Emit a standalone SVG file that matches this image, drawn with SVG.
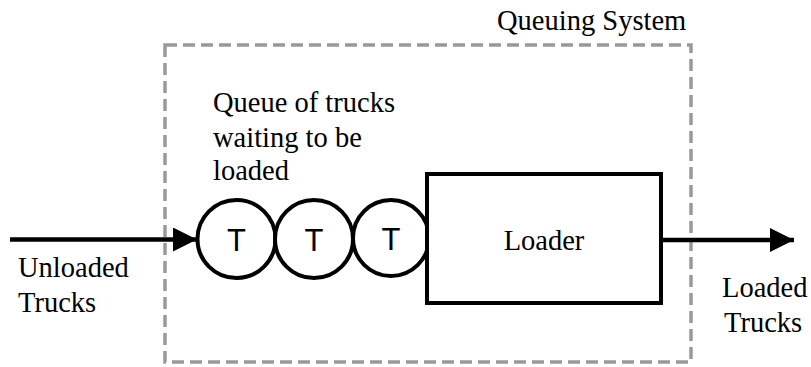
<svg xmlns="http://www.w3.org/2000/svg" width="811" height="367" viewBox="0 0 811 367">
<style>
.lbl{font-family:"Liberation Serif","Times New Roman",serif;font-size:28.5px;fill:#000}
.t{font-family:"Liberation Sans",Arial,sans-serif;font-size:31px;fill:#000;text-anchor:middle}
.node{fill:#fff;stroke:#000;stroke-width:4}
.edge{stroke:#000;stroke-width:4.5;fill:none}
</style>
<defs>
<marker id="arr" markerUnits="userSpaceOnUse" markerWidth="24" markerHeight="24" refX="24" refY="12" orient="auto">
<path d="M0,0 L24,12 L0,24 Z" fill="#000"/>
</marker>
</defs>
<g id="system">
<rect x="165" y="45" width="526" height="317" fill="none" stroke="#999" stroke-width="3.5" stroke-dasharray="12,6"/>
<text class="lbl" x="497" y="30">Queuing System</text>
</g>
<g id="connectors">
<line class="edge" x1="10" y1="239.5" x2="197" y2="239.5" marker-end="url(#arr)"/>
<line class="edge" x1="661" y1="240" x2="794" y2="240" marker-end="url(#arr)"/>
</g>
<g id="queue-label">
<text class="lbl" x="213" y="112">Queue of trucks</text>
<text class="lbl" x="213" y="147">waiting to be</text>
<text class="lbl" x="213" y="180">loaded</text>
</g>
<g id="truck1">
<circle class="node" cx="236.5" cy="239" r="39"/>
<text class="t" x="236.5" y="250.5">T</text>
</g>
<g id="truck2">
<circle class="node" cx="314" cy="239" r="39"/>
<text class="t" x="314" y="250.5">T</text>
</g>
<g id="truck3">
<circle class="node" cx="391" cy="238" r="38"/>
<text class="t" x="391" y="249.5">T</text>
</g>
<g id="loader">
<rect class="node" x="427" y="174" width="234" height="129"/>
<text class="lbl" x="544" y="250" text-anchor="middle">Loader</text>
</g>
<g id="unloaded">
<text class="lbl" x="18" y="277">Unloaded</text>
<text class="lbl" x="18" y="312">Trucks</text>
</g>
<g id="loaded">
<text class="lbl" x="722" y="297">Loaded</text>
<text class="lbl" x="724" y="332">Trucks</text>
</g>
</svg>
